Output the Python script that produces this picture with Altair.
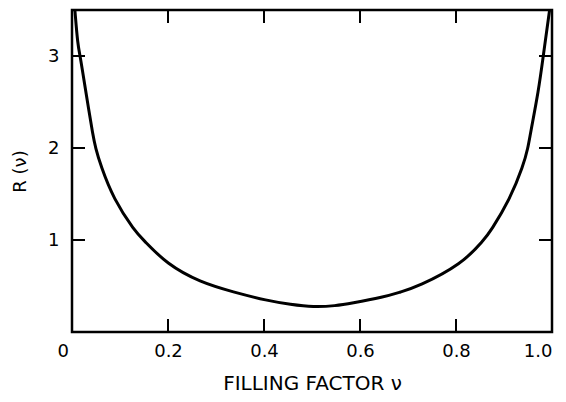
import altair as alt
import pandas as pd

# Curve
nu = [0.006, 0.012, 0.017, 0.024, 0.035, 0.043, 0.049, 0.060, 0.086, 0.131, 0.149,
      0.197, 0.267, 0.336, 0.407, 0.455, 0.503, 0.55, 0.58, 0.65, 0.684,
      0.72, 0.813, 0.858, 0.872, 0.913, 0.940, 0.950, 0.955, 0.972, 0.982, 0.995]
R = [3.5, 3.12, 3.0, 2.77, 2.41, 2.16, 2.0, 1.806, 1.45, 1.094, 1.0,
     0.74, 0.54, 0.435, 0.34, 0.30, 0.27, 0.285, 0.31, 0.38, 0.435,
     0.49, 0.74, 1.0, 1.094, 1.45, 1.806, 2.0, 2.16, 2.62, 3.01, 3.5]

x_ticks = [0.2, 0.4, 0.6, 0.8]
x_labels = [0, 0.2, 0.4, 0.6, 0.8, 1.0]
y_ticks = [1, 2, 3]

W, H = 480, 322
TICK = 13
FONT = "DejaVu Sans"

df = pd.DataFrame({"nu": nu, "R": R})
xt = pd.DataFrame({"nu": x_ticks})
yt = pd.DataFrame({"R": y_ticks})

xscale = alt.Scale(domain=[0, 1], nice=False, zero=False)
yscale = alt.Scale(domain=[0, 3.5], nice=False, zero=False)

line = alt.Chart(df).mark_line(color="black", strokeWidth=3, interpolate="basis").encode(
    x=alt.X("nu:Q", scale=xscale,
            axis=alt.Axis(values=x_labels, ticks=False, domain=False, grid=False,
                          labelExpr="datum.value == 0 ? '0' : format(datum.value, '.1f')",
                          labelOffset={"condition": {"test": "datum.value == 0", "value": -15}, "value": 0},
                          labelPadding=10, labelFontSize=18, labelFont=FONT, labelColor="black",
                          title="FILLING FACTOR  ν", titleFontSize=20, titleFont=FONT,
                          titleFontWeight="normal", titleColor="black", titlePadding=13)),
    y=alt.Y("R:Q", scale=yscale,
            axis=alt.Axis(values=y_ticks, format="d", ticks=False, domain=False, grid=False,
                          labelPadding=13, labelFontSize=18, labelFont=FONT, labelColor="black",
                          title="R (ν)", titleFontSize=18, titleFont=FONT,
                          titleFontWeight="normal", titleColor="black", titlePadding=18)),
)

bottom = alt.Chart(xt).mark_rule(color="black", strokeWidth=2).encode(
    x=alt.X("nu:Q", scale=xscale), y=alt.value(H), y2=alt.value(H - TICK))
top = alt.Chart(xt).mark_rule(color="black", strokeWidth=2).encode(
    x=alt.X("nu:Q", scale=xscale), y=alt.value(0), y2=alt.value(TICK))
left = alt.Chart(yt).mark_rule(color="black", strokeWidth=2).encode(
    y=alt.Y("R:Q", scale=yscale), x=alt.value(0), x2=alt.value(TICK))
right = alt.Chart(yt).mark_rule(color="black", strokeWidth=2).encode(
    y=alt.Y("R:Q", scale=yscale), x=alt.value(W), x2=alt.value(W - TICK))

chart = alt.layer(line, bottom, top, left, right).properties(
    width=W, height=H,
    background="white",
    autosize=alt.AutoSizeParams(type="none"),
    padding={"left": 64, "top": 2, "right": 6, "bottom": 62},
).configure_view(stroke="black", strokeWidth=2.5)

chart.save("out.html", embed_options={"renderer": "svg", "actions": False})
